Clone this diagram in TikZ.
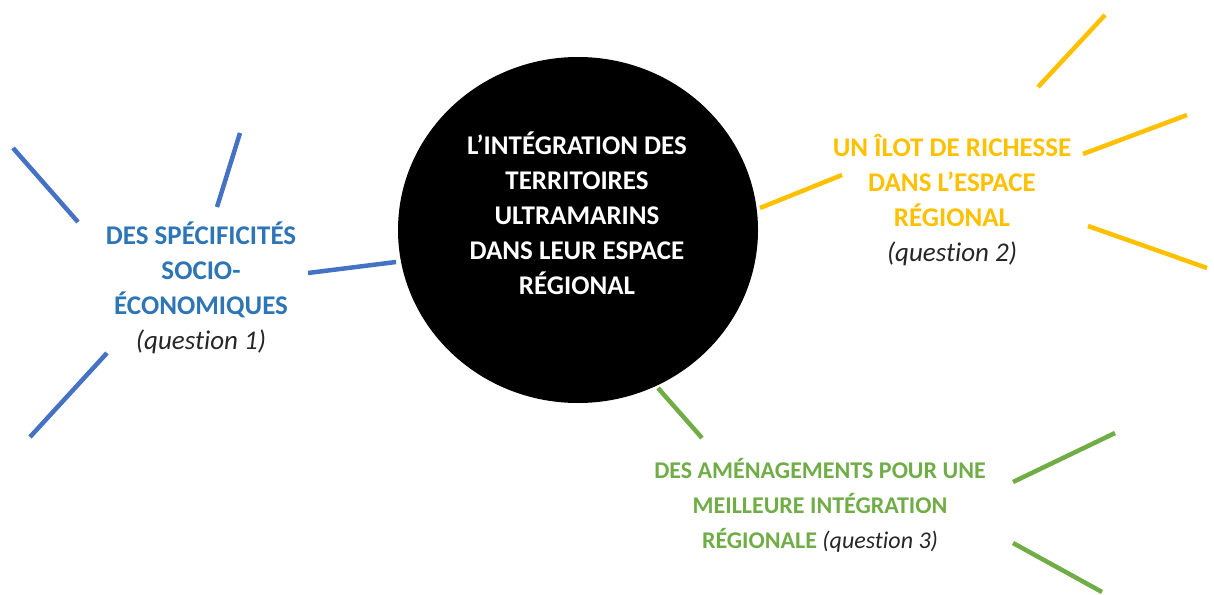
\documentclass[tikz,border=0pt]{standalone}
\usepackage{fontspec}
\setmainfont{Carlito}[Ligatures=NoCommon]
\usetikzlibrary{shapes.geometric}
\definecolor{lblue}{HTML}{4472C4}
\definecolor{tblue}{HTML}{2E75B6}
\definecolor{lyel}{HTML}{FFC000}
\definecolor{lgreen}{HTML}{70AD47}
\definecolor{qgray}{HTML}{262626}
\tikzset{
  ray/.style={line width=4.5pt},
  lbl/.style={align=center, font=\fontsize{27}{35}\selectfont\bfseries, inner sep=0pt},
  lblsmall/.style={align=center, font=\fontsize{24}{35}\selectfont\bfseries, inner sep=0pt},
}
\newcommand{\qst}[1]{{\color{qgray}\mdseries\itshape #1}}
\begin{document}
\begin{tikzpicture}[x=1pt,y=-1pt]
\useasboundingbox (0,0) rectangle (1214,594);
% central circle
\node[ellipse, fill=black, minimum width=360pt, minimum height=346pt, inner sep=0pt] (c) at (578,230) {};
\node[lbl, text=white] (ct) at (577,213) {L’INTÉGRATION DES\\TERRITOIRES\\ULTRAMARINS\\DANS LEUR ESPACE\\RÉGIONAL};
% labels
\node[lbl, text=tblue] (q1) at (201,288) {DES SPÉCIFICITÉS\\SOCIO-\\ÉCONOMIQUES\\\qst{(question 1)}};
\node[lbl, text=lyel] (q2) at (952,200) {UN ÎLOT DE RICHESSE\\DANS L’ESPACE\\RÉGIONAL\\\qst{(question 2)}};
\node[lblsmall, text=lgreen] (q3) at (820,505) {DES AMÉNAGEMENTS POUR UNE\\MEILLEURE INTÉGRATION\\RÉGIONALE \qst{(question 3)}};
% endpoints
\coordinate (b1a) at (13,148);  \coordinate (b1b) at (78,222);
\coordinate (b2a) at (240,133); \coordinate (b2b) at (217,207);
\coordinate (b3a) at (308,273); \coordinate (b3b) at (396,262);
\coordinate (b4a) at (107,353); \coordinate (b4b) at (30,437);
\coordinate (y1a) at (1105,15);  \coordinate (y1b) at (1038,87);
\coordinate (y2a) at (1187,115); \coordinate (y2b) at (1083,154);
\coordinate (y3a) at (760,208);  \coordinate (y3b) at (842,175);
\coordinate (y4a) at (1088,226); \coordinate (y4b) at (1207,268);
\coordinate (g1a) at (658,388);  \coordinate (g1b) at (702,438);
\coordinate (g2a) at (1115,433); \coordinate (g2b) at (1013,482);
\coordinate (g3a) at (1013,543); \coordinate (g3b) at (1102,592);
% rays
\draw[ray, lblue] (b1a) -- (b1b);
\draw[ray, lblue] (b2a) -- (b2b);
\draw[ray, lblue] (b3a) -- (b3b);
\draw[ray, lblue] (b4a) -- (b4b);
\draw[ray, lyel] (y1a) -- (y1b);
\draw[ray, lyel] (y2a) -- (y2b);
\draw[ray, lyel] (y3a) -- (y3b);
\draw[ray, lyel] (y4a) -- (y4b);
\draw[ray, lgreen] (g1a) -- (g1b);
\draw[ray, lgreen] (g2a) -- (g2b);
\draw[ray, lgreen] (g3a) -- (g3b);
\end{tikzpicture}
\end{document}
